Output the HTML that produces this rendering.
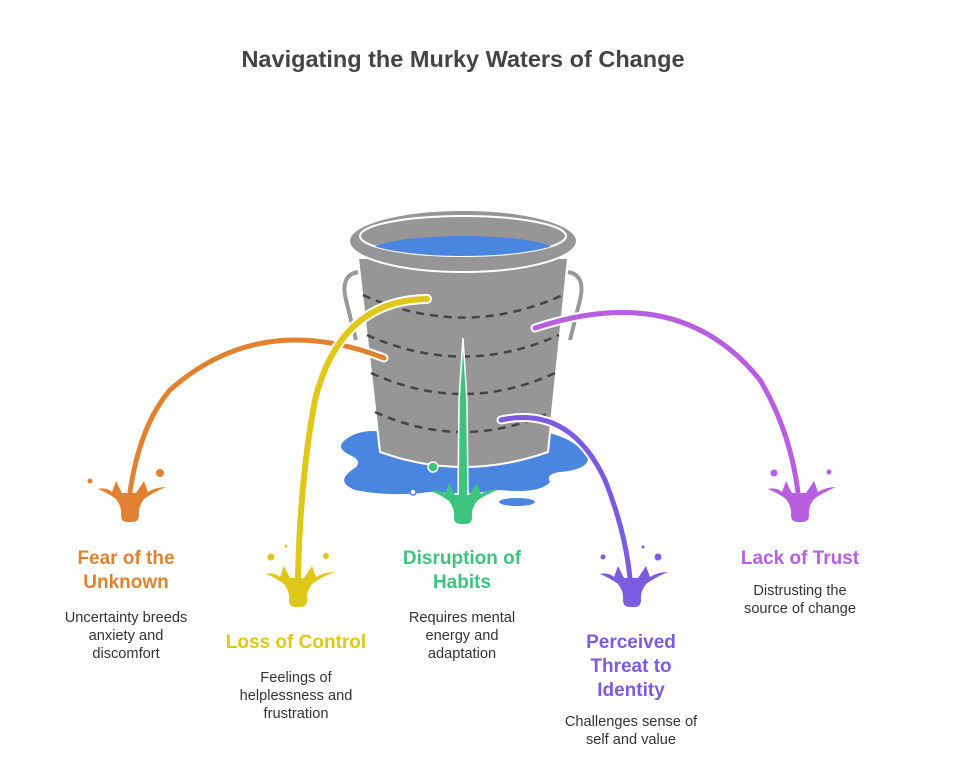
<!DOCTYPE html>
<html><head><meta charset="utf-8"><style>
html,body{margin:0;padding:0;background:#fff;}
svg{display:block;font-family:"Liberation Sans",Arial,sans-serif;}
.t{font-weight:bold;font-size:19px;text-anchor:middle;}
.d{font-size:14.6px;fill:#333;text-anchor:middle;}
</style></head><body>
<svg width="953" height="762" viewBox="0 0 953 762" xmlns="http://www.w3.org/2000/svg">
<defs>
<path id="sp" d="M-32,-6 Q-24,-8 -18,-3 L-14,-14 L-8,-2 L6,-2 L14,-14 L18,-3 Q26,-8 36,-8 Q22,-2 14,4 Q8,12 9,20 Q9,27 2,27 L-2,27 Q-9,27 -9,20 Q-8,12 -14,4 Q-22,-2 -32,-6 Z"/>
<clipPath id="inner"><ellipse cx="463" cy="236" rx="103" ry="20"/></clipPath>
</defs>
<text x="463" y="67" style="font-weight:bold;font-size:23.5px;fill:#444;text-anchor:middle">Navigating the Murky Waters of Change</text>

<!-- puddle -->
<path d="M345,440 Q360,428 385,432 L545,432 Q580,440 588,460 Q585,470 560,472 Q545,474 550,482 Q540,494 500,490 Q470,495 430,492 Q390,497 355,490 Q335,482 352,470 Q365,462 350,455 Q335,448 345,440 Z" fill="#4a86e0"/>
<ellipse cx="517" cy="502" rx="18" ry="4" fill="#4a86e0"/>
<circle cx="413" cy="492" r="3" fill="#fff" stroke="#4a86e0" stroke-width="1.5"/>
<!-- handles -->
<path d="M358,272 Q340,275 346,300 L356,340" fill="none" stroke="#999" stroke-width="4"/>
<path d="M568,272 Q586,275 580,300 L570,340" fill="none" stroke="#999" stroke-width="4"/>
<!-- body -->
<path d="M358,258 L568,258 L548,452 Q463,482 380,452 Z" fill="#969696" stroke="#fff" stroke-width="2"/>
<g fill="none" stroke="#444" stroke-width="2.5" stroke-dasharray="8,6">
<path d="M363,295 Q463,340 563,295"/>
<path d="M367,335 Q463,378 559,335"/>
<path d="M371,373 Q463,415 555,373"/>
<path d="M375,412 Q463,452 551,412"/>
</g>
<circle cx="433" cy="467" r="5" fill="#3cc47e" stroke="#fff" stroke-width="1.5"/>
<!-- rim -->
<ellipse cx="463" cy="241" rx="114" ry="31" fill="#969696" stroke="#fff" stroke-width="2"/>
<ellipse cx="463" cy="236" rx="103" ry="20" fill="#969696" stroke="#fff" stroke-width="2"/>
<ellipse cx="463" cy="251" rx="92" ry="15" fill="#4a86e0" clip-path="url(#inner)"/>

<!-- streams -->
<g fill="none" stroke-linecap="round">
<path d="M384,358 Q260,310 170,390 Q140,425 130,492" stroke="#fff" stroke-width="9"/>
<path d="M384,358 Q260,310 170,390 Q140,425 130,492" stroke="#e0822f" stroke-width="5"/>
<path d="M427,299 Q340,300 315,400 Q300,480 298,578" stroke="#fff" stroke-width="10"/>
<path d="M427,299 Q340,300 315,400 Q300,480 298,578" stroke="#e0c818" stroke-width="6"/>
<path d="M535,328 Q680,280 760,380 Q790,430 798,492" stroke="#fff" stroke-width="9"/>
<path d="M535,328 Q680,280 760,380 Q790,430 798,492" stroke="#b85ee0" stroke-width="5"/>
<path d="M501,420 Q570,405 605,480 Q625,530 630,578" stroke="#fff" stroke-width="9"/>
<path d="M501,420 Q570,405 605,480 Q625,530 630,578" stroke="#7b5ce0" stroke-width="5"/>
</g>
<path d="M463,338 L467,400 L468,500 L458,500 L459,400 Z" fill="#3cc47e" stroke="#fff" stroke-width="1.5"/>

<!-- splashes -->
<g fill="#e0822f"><use href="#sp" transform="translate(130,495)"/><circle cx="90" cy="481" r="2.5"/><circle cx="160" cy="473" r="4"/></g>
<g fill="#e0c818"><use href="#sp" transform="translate(298,580)"/><circle cx="271" cy="557" r="3.5"/><circle cx="286" cy="546" r="1.5"/><circle cx="326" cy="556" r="3"/></g>
<g fill="#3cc47e"><use href="#sp" transform="translate(463,497)"/></g>
<g fill="#7b5ce0"><use href="#sp" transform="translate(632,580)"/><circle cx="603" cy="557" r="2.5"/><circle cx="643" cy="547" r="1.5"/><circle cx="658" cy="557" r="3.5"/></g>
<g fill="#b85ee0"><use href="#sp" transform="translate(800,495)"/><circle cx="774" cy="473" r="3.5"/><circle cx="829" cy="472" r="2.5"/></g>

<!-- labels -->
<text class="t" fill="#e0822f" x="126" y="564">Fear of the</text>
<text class="t" fill="#e0822f" x="126" y="588">Unknown</text>
<text class="d" x="126" y="622">Uncertainty breeds</text>
<text class="d" x="126" y="640">anxiety and</text>
<text class="d" x="126" y="658">discomfort</text>

<text class="t" fill="#e0c818" x="296" y="648">Loss of Control</text>
<text class="d" x="296" y="682">Feelings of</text>
<text class="d" x="296" y="700">helplessness and</text>
<text class="d" x="296" y="718">frustration</text>

<text class="t" fill="#3cc47e" x="462" y="564">Disruption of</text>
<text class="t" fill="#3cc47e" x="462" y="588">Habits</text>
<text class="d" x="462" y="622">Requires mental</text>
<text class="d" x="462" y="640">energy and</text>
<text class="d" x="462" y="658">adaptation</text>

<text class="t" fill="#7b5ce0" x="631" y="648">Perceived</text>
<text class="t" fill="#7b5ce0" x="631" y="672">Threat to</text>
<text class="t" fill="#7b5ce0" x="631" y="696">Identity</text>
<text class="d" x="631" y="726">Challenges sense of</text>
<text class="d" x="631" y="744">self and value</text>

<text class="t" fill="#b85ee0" x="800" y="564">Lack of Trust</text>
<text class="d" x="800" y="595">Distrusting the</text>
<text class="d" x="800" y="613">source of change</text>
</svg>
</body></html>
